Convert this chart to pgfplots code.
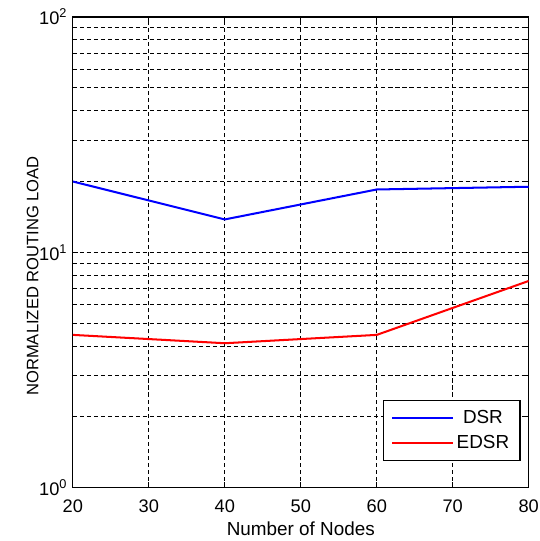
\documentclass[border=0pt]{standalone}
\usepackage{pgfplots}
\pgfplotsset{compat=1.18}
\usepackage{fontspec}
\setmainfont{Liberation Sans}

\begin{document}
\fontsize{12}{14}\selectfont
\begin{tikzpicture}
\begin{axis}[
    width=338pt, height=349pt, scale only axis,
    ymode=log, xmin=20, xmax=80, ymin=1, ymax=100,
    /pgf/number format/assume math mode=true,
    xtick={20,30,...,80},
    ytick={1,10,100},
    yticklabels={10\textsuperscript{0},10\textsuperscript{1},10\textsuperscript{2}},
    grid=both,
    major grid style={black, line width=0.6pt, dash pattern=on 3pt off 2.2pt},
    minor grid style={black, line width=0.6pt, dash pattern=on 3pt off 2.2pt},
    axis line style={line width=0.9pt},
    tick align=inside,
    major tick length=4pt, minor tick length=2.5pt,
    tick style={black, line width=0.6pt},
    ticklabel style={font=\fontsize{13.5}{15}\selectfont},
    xticklabel style={yshift=-5pt, inner xsep=0pt},
    xlabel={Number of Nodes},
    ylabel={NORMALIZED ROUTING LOAD},
    ylabel style={at={(axis description cs:-0.088,0.45)}, anchor=center,
        font=\fontsize{12.3}{14}\selectfont},
    xlabel style={at={(axis description cs:0.5,-0.087)}, anchor=center,
        font=\fontsize{14}{16}\selectfont},
    legend style={at={(axis description cs:0.982,0.057)}, anchor=south east,
        draw=black, line width=0.8pt, inner xsep=6pt, inner ysep=5pt,
        row sep=3pt, font=\fontsize{14}{16}\selectfont},
    legend cell align=center,
    legend image code/.code={\draw[#1] (0pt,0pt) -- (45pt,0pt);},
]
\addplot[blue, line width=1.5pt] coordinates {(20,20.0) (40,13.8) (60,18.5) (80,19.0)};
\addlegendentry{DSR}
\addplot[red, line width=1.5pt] coordinates {(20,4.46) (40,4.11) (60,4.46) (80,7.56)};
\addlegendentry{EDSR}
\end{axis}
\path (current axis.south west) ++(-54pt,-37pt) coordinate (bbA);
\path (current axis.north east) ++(8pt,12.6pt) coordinate (bbB);
\end{tikzpicture}
\end{document}
